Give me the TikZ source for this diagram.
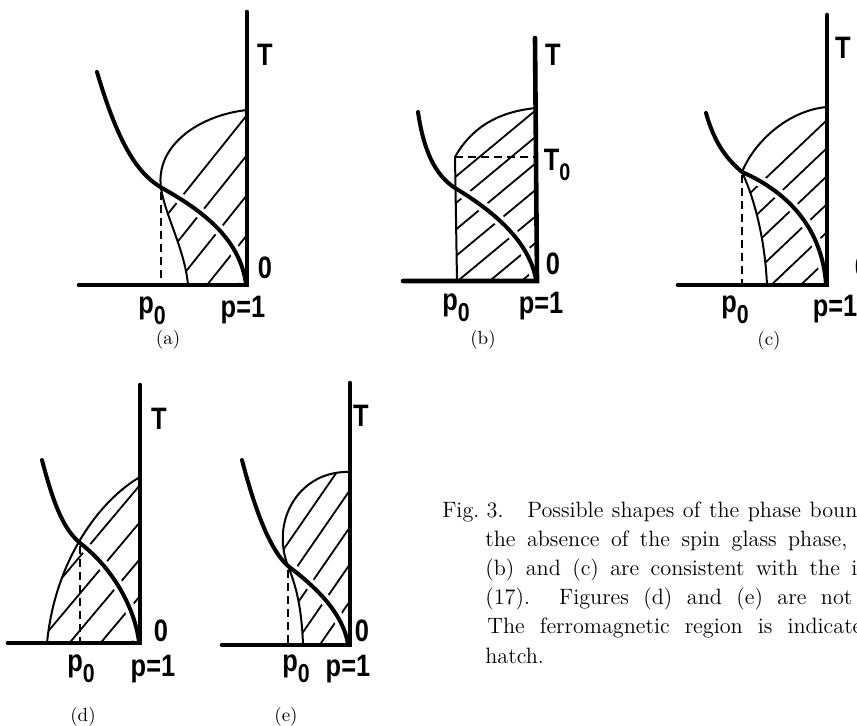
\documentclass[tikz,border=0pt]{standalone}
\usepackage{fontspec}
\usepackage{tikz}
\newfontfamily\lettering[FakeStretch=0.82]{Liberation Sans}
% lowered zeros of the hand lettering
\newcommand{\pnull}{p\raisebox{-0.35em}{\fontsize{13}{13}\selectfont 0}}
\newcommand{\Tnull}{T\raisebox{-0.3em}{\fontsize{12}{12}\selectfont 0}}

\begin{document}
\begin{tikzpicture}[x=0.5pt, y=-0.5pt,
  axis/.style={line width=2.3pt, line cap=round, line join=miter},
  bdry/.style={line width=2pt, line cap=round,
               preaction={draw=white, line width=5.5pt}},
  fmline/.style={line width=1pt},
  hatchline/.style={line width=0.9pt},
  guide/.style={line width=1pt, dash pattern=on 4pt off 2.5pt},
  lbl/.style={font=\lettering\bfseries\fontsize{15.5}{15.5}\selectfont, inner sep=0},
  tag/.style={font=\fontsize{9.5}{11}\selectfont, inner sep=0},
  capline/.style={anchor=base west, inner sep=0, font=\fontsize{11.1}{14}\selectfont},
]
\useasboundingbox (0,0) rectangle (857,725);

% ---- (a)
\begin{scope}
  \clip (247,110) .. controls (200,115) and (155,145) .. (161,188)
        .. controls (165,215) and (185,250) .. (188,285) -- (247,285) -- cycle;
  \foreach \c in {115,155,...,275}
    \draw[hatchline] (47,\c+250) -- (257,\c-12.5);
\end{scope}
\draw[bdry] (97,72) .. controls (120,150) and (140,175) .. (162,188)
      .. controls (205,212) and (240,240) .. (246,284);
\draw[fmline] (247,110) .. controls (200,115) and (155,145) .. (161,188)
      .. controls (165,215) and (185,250) .. (188,285);
\draw[guide] (161,192) -- (161,285);
\draw[axis] (247,12) -- (247,285) -- (79,285);
\node[lbl] (Ta) at (265,55) {T};
\node[lbl] (Oa) at (265,268) {0};
\node[lbl] (pa) at (243,310) {p=1};
\node[lbl] (p0a) at (152,311) {\pnull};
\node[tag] (taga) at (168,340) {(a)};

% ---- (b)
\begin{scope}
  \clip (536,108) .. controls (495,112) and (470,130) .. (455,157)
        -- (457,281) -- (536,281) -- cycle;
  \foreach \c in {110,136.5,...,270}
    \draw[hatchline] (436,\c+83) -- (546,\c-8.3);
\end{scope}
\draw[bdry] (418,112) .. controls (425,160) and (440,178) .. (455,188)
      .. controls (500,215) and (530,245) .. (536,280);
\draw[fmline] (536,108) .. controls (495,112) and (470,130) .. (455,157) -- (457,281);
\draw[guide] (455,157) -- (536,157);
\draw[axis] (535,38) -- (537,281) -- (403,281);
\node[lbl] (Tb) at (553,55) {T};
\node[lbl] (T0b) at (557,165) {\Tnull};
\node[lbl] (Ob) at (553,264) {0};
\node[lbl] (pb) at (541,306) {p=1};
\node[lbl] (p0b) at (456,308) {\pnull};
\node[tag] (tagb) at (483,340) {(b)};

% ---- (c)
\begin{scope}
  \clip (827,107) .. controls (790,110) and (755,140) .. (742,172)
        .. controls (755,200) and (765,240) .. (767,285) -- (827,285) -- cycle;
  \foreach \c in {120,148,...,290}
    \draw[hatchline] (727,\c+95) -- (837,\c-9.5);
\end{scope}
\draw[bdry] (706,113) .. controls (715,145) and (728,160) .. (742,172)
      .. controls (790,193) and (822,230) .. (826,284);
\draw[fmline] (827,107) .. controls (790,110) and (755,140) .. (742,172)
      .. controls (755,200) and (765,240) .. (767,285);
\draw[guide] (742,175) -- (742,285);
\draw[axis] (827,15) -- (827,285) -- (678,285);
\node[lbl] (Tc) at (843,48) {T};
\node[lbl] (Oc) at (862,267) {0};
\node[lbl] (pc) at (835,309) {p=1};
\node[lbl] (p0c) at (735,310) {\pnull};
\node[tag] (tagc) at (769,341) {(c)};

% ---- (d)
\begin{scope}
  \clip (140,477) .. controls (100,500) and (55,560) .. (47,643) -- (140,643) -- cycle;
  \foreach \c in {448,485,...,640}
    \draw[hatchline] (30,\c+130.9) -- (150,\c-11.9);
\end{scope}
\draw[bdry] (42,460) .. controls (55,510) and (65,530) .. (80,543)
      .. controls (115,570) and (135,610) .. (139,642);
\draw[fmline] (140,477) .. controls (100,500) and (55,560) .. (47,643);
\draw[guide] (80,546) -- (80,643);
\draw[axis] (140,385) -- (140,643) -- (8,643);
\node[lbl] (Td) at (159,419) {T};
\node[lbl] (Od) at (161,631) {0};
\node[lbl] (pd) at (153,669) {p=1};
\node[lbl] (p0d) at (81,669) {\pnull};
\node[tag] (tagd) at (83,717) {(d)};

% ---- (e)
\begin{scope}
  \clip (350,472) .. controls (300,470) and (270,520) .. (288,566)
        .. controls (298,590) and (302,615) .. (303,645) -- (350,645) -- cycle;
  \foreach \c in {453,490,...,645}
    \draw[hatchline] (270,\c+116) -- (360,\c-14.5);
\end{scope}
\draw[bdry] (242,460) .. controls (255,510) and (270,550) .. (288,566)
      .. controls (320,590) and (343,615) .. (348,644);
\draw[fmline] (350,472) .. controls (300,470) and (270,520) .. (288,566)
      .. controls (298,590) and (302,615) .. (303,645);
\draw[guide] (288,570) -- (288,645);
\draw[axis] (350,383) -- (350,645) -- (222,645);
\node[lbl] (Te) at (361,416) {T};
\node[lbl] (Oe) at (362,631) {0};
\node[lbl] (pe) at (348,669) {p=1};
\node[lbl] (p0e) at (296,669) {\pnull};
\node[tag] (tage) at (286,717) {(e)};

% caption, cut at the right edge as printed
\node[capline, anchor=base east] (figno) at (504,517) {Fig.~3.};
\node[capline] (cap1) at (527,517) {\makebox[165pt][s]{Possible shapes of the phase boun}};
\node[capline] (cap2) at (485,546.2) {\makebox[181pt][s]{the absence of the spin glass phase,}};
\node[capline] (cap3) at (485,575.4) {\makebox[186pt][s]{(b) and (c) are consistent with the i}};
\node[capline] (cap4) at (485,604.6) {\makebox[183.5pt][s]{(17).\ \ Figures (d) and (e) are not}};
\node[capline] (cap5) at (487,633.8) {\makebox[187.5pt][s]{The ferromagnetic region is indicate}};
\node[capline] (cap6) at (485,663) {hatch.};
\end{tikzpicture}
\end{document}
